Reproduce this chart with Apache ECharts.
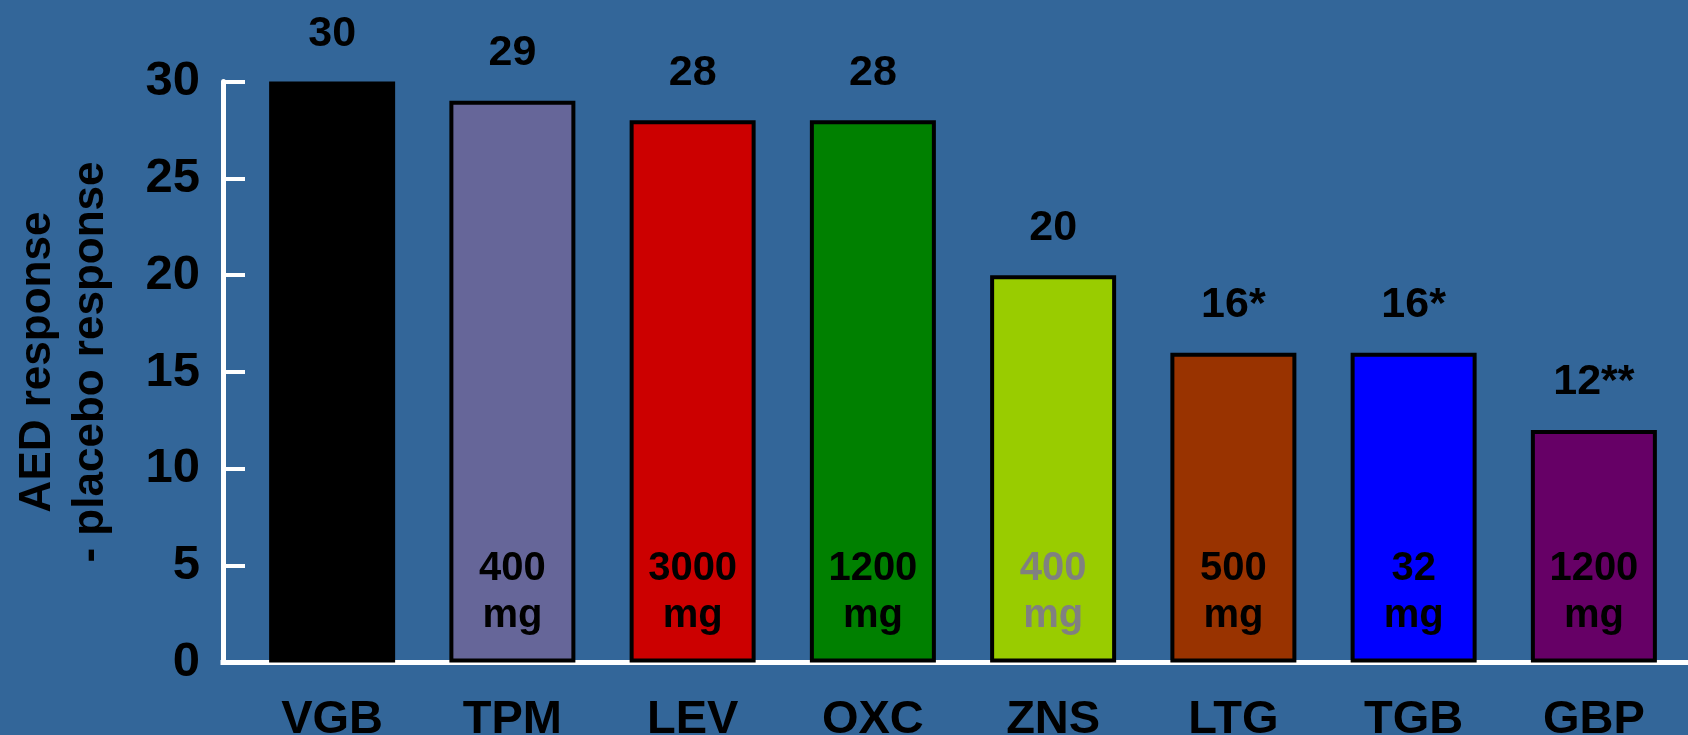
<!DOCTYPE html>
<html>
<head>
<meta charset="utf-8">
<script src="https://cdn.jsdelivr.net/npm/echarts@6/dist/echarts.min.js"></script>
<style>
  html, body { margin: 0; padding: 0; background: #336699; }
  #chart { width: 1688px; height: 735px; }
</style>
</head>
<body>
<div id="chart"></div>
<script>
// Antiepileptic drugs, responder rate minus placebo responder rate (%)
const drugs = ['VGB', 'TPM', 'LEV', 'OXC', 'ZNS', 'LTG', 'TGB', 'GBP'];
const responseDiff = [30, 29, 28, 28, 20, 16, 16, 12];
const significance = ['', '', '', '', '', '*', '*', '**'];
const doseMg = [null, 400, 3000, 1200, 400, 500, 32, 1200];
const barColors = ['#000000', '#666699', '#cc0000', '#008000', '#99cc00', '#993300', '#0000ff', '#660066'];
const doseTextColors = ['#000000', '#000000', '#000000', '#000000', '#808080', '#000000', '#000000', '#000000'];
const yMin = 0, yMax = 30, yStep = 5;

const FONT = '"Liberation Sans", Arial, Helvetica, sans-serif';
const AXIS_OFFSET = 19;
const chart = echarts.init(document.getElementById('chart'));

const mainBars = responseDiff.map((v, i) => ({
  value: v,
  itemStyle: { color: barColors[i] }
}));

const doseBars = responseDiff.map((v, i) => ({
  value: v,
  label: {
    show: doseMg[i] != null,
    formatter: doseMg[i] != null ? doseMg[i] + '\nmg' : '',
    color: doseTextColors[i]
  }
}));

chart.setOption({
  backgroundColor: '#336699',
  animation: false,
  grid: {
    left: 242, right: 4, top: 81.5, bottom: 72.5,
    containLabel: false,
    outerBoundsMode: 'none'
  },
  xAxis: {
    type: 'category',
    data: drugs,
    axisLine: { show: true, lineStyle: { color: '#ffffff', width: 5 } },
    axisTick: { show: false },
    axisLabel: {
      margin: 34,
      color: '#000000',
      fontFamily: FONT,
      fontWeight: 'bold',
      fontSize: 47,
      lineHeight: 47
    },
    splitLine: { show: false }
  },
  yAxis: {
    type: 'value',
    min: yMin,
    max: yMax,
    interval: yStep,
    offset: AXIS_OFFSET,
    name: 'AED response\n- placebo response',
    nameLocation: 'middle',
    nameRotate: 90,
    nameGap: 106,
    nameTextStyle: {
      color: '#000000',
      fontFamily: FONT,
      fontWeight: 'bold',
      fontSize: 44,
      lineHeight: 53,
      align: 'center',
      padding: [0, 0, 0, 20]
    },
    axisLine: { show: true, lineStyle: { color: '#ffffff', width: 5 } },
    axisTick: { show: true, inside: true, length: 22, lineStyle: { color: '#ffffff', width: 4 } },
    axisLabel: {
      margin: 23,
      color: '#000000',
      fontFamily: FONT,
      fontWeight: 'bold',
      fontSize: 49
    },
    splitLine: { show: false }
  },
  series: [
    {
      type: 'bar',
      data: mainBars,
      barWidth: 126,
      itemStyle: { borderColor: '#000000', borderWidth: 4 },
      label: {
        show: true,
        position: 'top',
        distance: 26,
        color: '#000000',
        fontFamily: FONT,
        fontWeight: 'bold',
        fontSize: 43,
        formatter: p => p.value + significance[p.dataIndex]
      },
      z: 2
    },
    {
      type: 'bar',
      data: doseBars,
      barWidth: 126,
      barGap: '-100%',
      itemStyle: { color: 'rgba(0,0,0,0)' },
      label: {
        show: true,
        position: 'insideBottom',
        distance: 23,
        fontFamily: FONT,
        fontWeight: 'bold',
        fontSize: 40,
        lineHeight: 47,
        align: 'center'
      },
      silent: true,
      z: 3
    }
  ]
});

// Extend the baseline to meet the offset value axis and run to the right edge
const origin = chart.convertToPixel({ gridIndex: 0 }, [0, 0]);
const rect = chart.getModel().getComponent('grid', 0).coordinateSystem.getRect();
chart.setOption({
  graphic: [{
    type: 'line',
    shape: { x1: rect.x - AXIS_OFFSET - 2.5, y1: origin[1], x2: rect.x + 1, y2: origin[1] },
    style: { stroke: '#ffffff', lineWidth: 5 },
    z: 10
  }, {
    type: 'line',
    shape: { x1: rect.x + rect.width - 1, y1: origin[1], x2: chart.getWidth(), y2: origin[1] },
    style: { stroke: '#ffffff', lineWidth: 5 },
    z: 10
  }]
});
</script>
</body>
</html>
